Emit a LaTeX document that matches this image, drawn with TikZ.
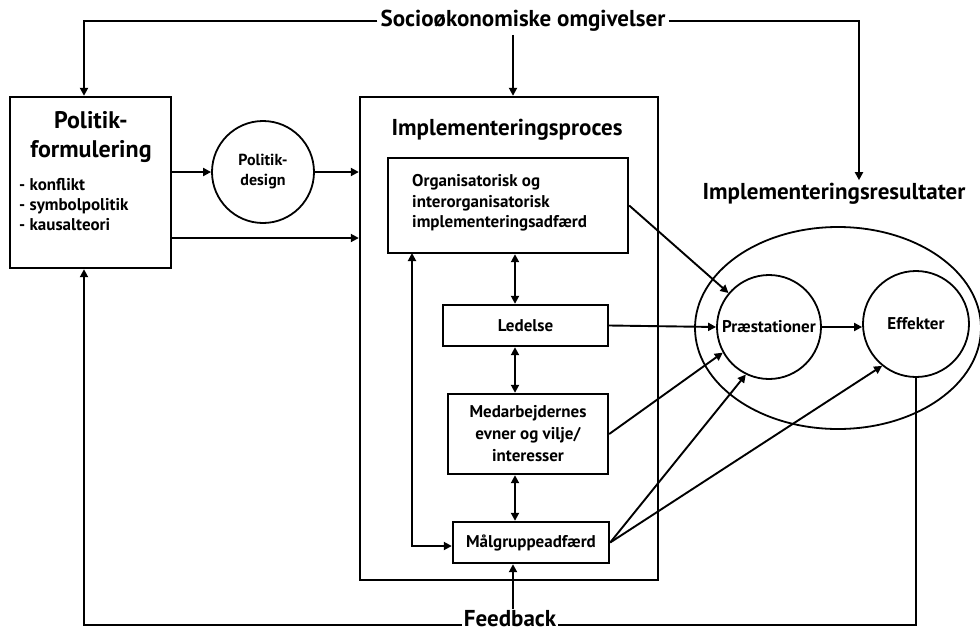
\documentclass[tikz,border=0pt]{standalone}
\usepackage{fontspec}
\setmainfont{PT Sans}
\usetikzlibrary{arrows.meta,shapes.geometric}
\tikzset{
  box/.style={draw,line width=2.4pt,rectangle,inner sep=0pt},
  circ/.style={draw,line width=1.8pt,circle,inner sep=0pt},
  conn/.style={line width=1.9pt},
  arr/.style={conn,-{Triangle[length=8pt,width=8pt]}},
  darr/.style={conn,{Triangle[length=8pt,width=8pt]}-{Triangle[length=8pt,width=8pt]}},
  lbl/.style={inner sep=1pt,font=\bfseries\fontsize{17}{21.5}\selectfont},
  big/.style={inner sep=3pt,font=\bfseries\fontsize{23}{26}\selectfont},
}
\begin{document}
\begin{tikzpicture}[x=1pt,y=-1pt]
\useasboundingbox (0,0) rectangle (980,635);
% boxes
\node[box,minimum width=161pt,minimum height=171pt] (pol) at (90.5,182.5) {};
\node[big,align=center,font=\bfseries\fontsize{24}{29}\selectfont] (polT) at (91,137) {Politik-\\formulering};
\node[lbl,anchor=west,align=left,font=\bfseries\fontsize{17}{20}\selectfont] (polL) at (18,205) {- konflikt\\- symbolpolitik\\- kausalteori};
\node[circ,minimum size=102pt,font=\bfseries\fontsize{16}{20}\selectfont,align=center] (pd) at (263,172) {Politik-\\design};
\node[box,minimum width=298pt,minimum height=483pt] (imp) at (509,338.5) {};
\node[big] (impT) at (507,130) {Implementeringsproces};
\node[box,minimum width=240pt,minimum height=95pt] (org) at (508,205.5) {};
\node[lbl,anchor=west,align=left,font=\bfseries\fontsize{17}{20.5}\selectfont] (orgT) at (411,203) {Organisatorisk og\\interorganisatorisk\\implementeringsadfærd};
\node[box,minimum width=165pt,minimum height=41pt,lbl] (led) at (525.5,325.5) {Ledelse};
\node[box,minimum width=160pt,minimum height=80pt,lbl,align=center,font=\bfseries\fontsize{17}{22}\selectfont] (med) at (528,434) {Medarbejdernes\\evner og vilje/\\interesser};
\node[box,minimum width=156pt,minimum height=41pt,lbl] (mal) at (531,542.5) {Målgruppeadfærd};
% results
\node[draw,line width=1.8pt,ellipse,minimum width=286pt,minimum height=202pt] (res) at (838,328) {};
\node[circ,minimum size=104pt,lbl] (pr) at (769,327) {Præstationer};
\node[circ,minimum size=106pt,lbl] (eff) at (916,324) {Effekter};
\node[big,font=\bfseries\fontsize{23}{26}\selectfont] (resT) at (834,194) {Implementeringsresultater};
% outer labels
\node[big] (soc) at (523,21) {Socioøkonomiske omgivelser};
\node[big,inner sep=2pt] (fb) at (510,619) {Feedback};
% coordinates
\coordinate (tl) at (84,21);
\coordinate (tr) at (859,21);
\coordinate (bl) at (84,625);
\coordinate (lpTop) at (412,253);
\coordinate (lpBot) at (412,546);
% top connectors
\draw[arr] (soc.west) -| (pol.north -| tl);
\draw[arr] (soc.east) -| (resT.north -| tr);
\draw[arr] (soc.south -| 513,0) -- (imp.north -| 513,0);
% left connectors
\draw[arr] (pol.east |- pd.west) -- (pd.west);
\draw[arr] (pd.east) -- (imp.west |- pd.east);
\draw[arr] (pol.east |- 0,238) -- (imp.west |- 0,238);
% inside
\draw[darr] (org.south -| 515,0) -- (led.north -| 515,0);
\draw[darr] (led.south -| 515,0) -- (med.north -| 515,0);
\draw[darr] (med.south -| 515,0) -- (mal.north -| 515,0);
\draw[darr] (lpTop) -- (lpBot) -- (mal.west |- lpBot);
% to results
\draw[arr] (org.east) -- (pr.140);
\draw[arr] (led.east) -- (pr.west);
\draw[arr] (med.east) -- (pr.209);
\draw[arr] (mal.east) -- (pr.244);
\draw[arr] (mal.east) -- (eff.231);
\draw[arr] (pr.east) -- (eff.west |- pr.east);
% feedback
\draw[conn] (eff.south) -- (eff.south |- bl) -- (fb.east |- bl);
\draw[arr] (fb.west |- bl) -- (bl) -- (pol.south -| bl);
\draw[arr] (fb.north -| 513,0) -- (mal.south -| 513,0);
\end{tikzpicture}
\end{document}
